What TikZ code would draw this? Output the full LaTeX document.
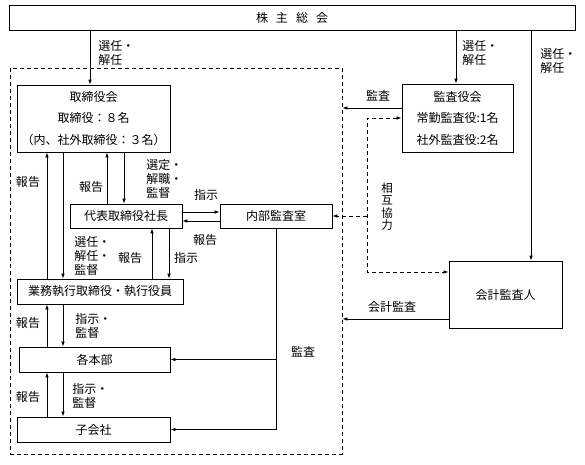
\documentclass[tikz,border=0pt]{standalone}
\usepackage{fontspec}
\setmainfont{Noto Sans CJK JP}
\usetikzlibrary{arrows.meta}

\tikzset{
  box/.style={draw,inner sep=0pt,align=center},
  lbl/.style={inner sep=0pt,align=left},
  wide/.style={font=\fontsize{12}{21.5}\selectfont},
}

\begin{document}
\begin{tikzpicture}[x=1pt,y=-1pt,line width=0.8pt,>={Latex[length=5pt,width=3.6pt]},
  font=\fontsize{12}{14}\selectfont]
%\draw[step=10,gray,very thin] (0,0) grid (585,464); %pixel grid
\useasboundingbox (0,0) rectangle (585,464);

\node[box,minimum width=566pt,minimum height=25pt] (soukai) at (292,17.5) {株\hspace{8pt}主\hspace{8pt}総\hspace{8pt}会};
\node[draw,dashed,dash pattern=on 4pt off 3pt,minimum width=332pt,minimum height=386pt] (grp) at (176,261) {};

\node[box,wide,minimum width=153pt,minimum height=67pt] (board) at (93.5,118.5) {取締役会\\取締役：８名\\（内、社外取締役：３名）};
\node[box,wide,minimum width=111pt,minimum height=68pt] (kansayaku) at (457.5,118) {監査役会\\常勤監査役:1名\\社外監査役:2名};
\node[box,minimum width=112pt,minimum height=24pt] (ceo) at (126,216) {代表取締役社長};
\node[box,minimum width=112pt,minimum height=24pt] (naibu) at (276,216) {内部監査室};
\node[box,minimum width=113pt,minimum height=67pt] (kaikei) at (505.5,294.5) {会計監査人};
\node[box,minimum width=166pt,minimum height=25pt] (gyomu) at (100,291.5) {業務執行取締役・執行役員};
\node[box,minimum width=151pt,minimum height=25pt] (honbu) at (94.5,359.5) {各本部};
\node[box,minimum width=153pt,minimum height=25pt] (kogaisha) at (93.5,429.5) {子会社};

\coordinate (sen1) at (90,0);
\coordinate (sen2) at (456,0);
\coordinate (sen3) at (531,0);
\coordinate (up1) at (47,0);
\coordinate (dn1) at (63,0);
\coordinate (up2) at (107,0);
\coordinate (dn2) at (124,0);
\coordinate (up3) at (152,0);
\coordinate (dn3) at (169,0);
\coordinate (shiji) at (0,212);
\coordinate (hokoku) at (0,221);
\coordinate (kansa) at (0,108);
\coordinate (kaikeikansa) at (0,319);
\coordinate (sogo) at (367,118);
\coordinate (sogo2) at (367,272);

\draw[->] (soukai.south -| sen1) -- (board.north -| sen1);
\draw[->] (soukai.south -| sen2) -- (kansayaku.north -| sen2);
\draw[->] (soukai.south -| sen3) -- (kaikei.north -| sen3);

\draw[->] (gyomu.north -| up1) -- (board.south -| up1);
\draw[->] (board.south -| dn1) -- (gyomu.north -| dn1);
\draw[->] (ceo.north -| up2) -- (board.south -| up2);
\draw[->] (board.south -| dn2) -- (ceo.north -| dn2);
\draw[->] (gyomu.north -| up3) -- (ceo.south -| up3);
\draw[->] (ceo.south -| dn3) -- (gyomu.north -| dn3);
\draw[->] (ceo.east |- shiji) -- (naibu.west |- shiji);
\draw[->] (naibu.west |- hokoku) -- (ceo.east |- hokoku);

\draw[->] (honbu.north -| up1) -- (gyomu.south -| up1);
\draw[->] (gyomu.south -| dn1) -- (honbu.north -| dn1);
\draw[->] (kogaisha.north -| up1) -- (honbu.south -| up1);
\draw[->] (honbu.south -| dn1) -- (kogaisha.north -| dn1);

\draw[->] (naibu.south) |- (honbu.east);
\draw[->] (naibu.south) |- (kogaisha.east);
\draw[->] (kansayaku.west |- kansa) -- (grp.east |- kansa);
\draw[->] (kaikei.west |- kaikeikansa) -- (grp.east |- kaikeikansa);
\draw[<->,dash pattern=on 4pt off 3pt] (kansayaku.west |- sogo) -- (sogo) -- (sogo2) -- (kaikei.west |- sogo2);
\draw[->,dash pattern=on 4pt off 3pt] (sogo |- naibu.east) -- (naibu.east);

\node[lbl,anchor=west] (l-sen1) at (98,52.5) {選任・\\解任};
\node[lbl,anchor=west] (l-sen2) at (462,52.5) {選任・\\解任};
\node[lbl,anchor=west] (l-sen3) at (540,61) {選任・\\解任};
\node[lbl] (l-kansa1) at (378,96) {監査};
\node[lbl,align=center,font=\fontsize{11.5}{12.5}\selectfont] (l-sogo) at (387,206.5) {相\\互\\協\\力};
\node[lbl] (l-kaikei) at (392,307) {会計監査};
\node[lbl] (l-kansa2) at (303,352) {監査};

\node[lbl] (l-hok1) at (28,182) {報告};
\node[lbl] (l-hok2) at (91,187) {報告};
\node[lbl,anchor=west] (l-sentei) at (146,179) {選定・\\解職・\\監督};
\node[lbl] (l-shiji1) at (206,195) {指示};
\node[lbl] (l-hok3) at (205,240) {報告};
\node[lbl,anchor=west] (l-senkan) at (74,256) {選任・\\解任・\\監督};
\node[lbl] (l-hok4) at (130,258) {報告};
\node[lbl] (l-shiji2) at (186,258) {指示};
\node[lbl] (l-hok5) at (28,323) {報告};
\node[lbl,anchor=west] (l-shikan1) at (75,325.5) {指示・\\監督};
\node[lbl] (l-hok6) at (28,397) {報告};
\node[lbl,anchor=west] (l-shikan2) at (72,396) {指示・\\監督};

\end{tikzpicture}
\end{document}
